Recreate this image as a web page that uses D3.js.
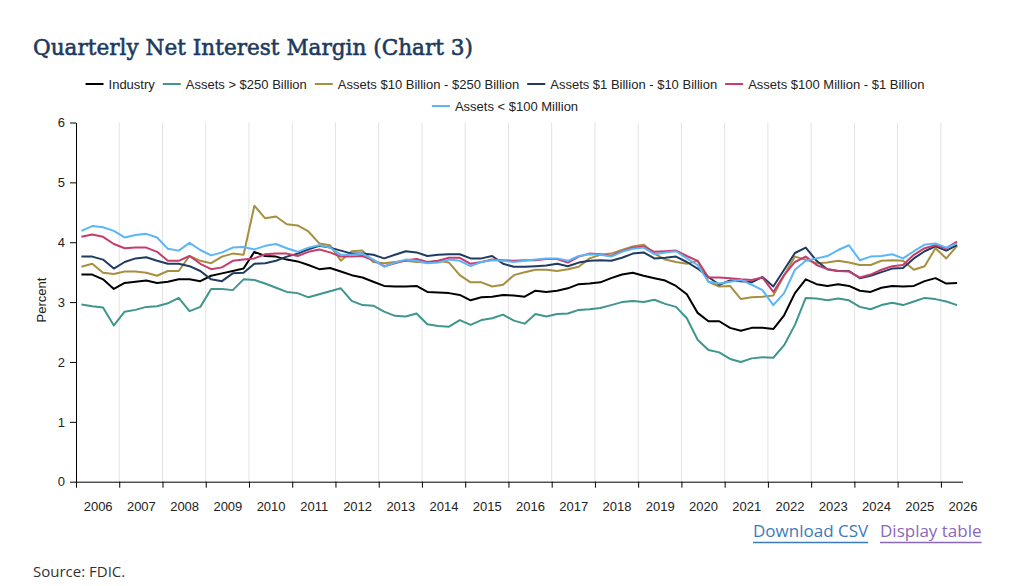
<!DOCTYPE html>
<html>
<head>
<meta charset="utf-8">
<script src="https://cdn.jsdelivr.net/npm/d3@7"></script>
<style>
  body { margin: 0; background: #fff; }
  svg { display: block; }
</style>
</head>
<body>
<svg width="1024" height="586"></svg>
<script>
'use strict';

// quarters 2006 Q1 .. 2026 Q2 as shown on the axis
const quarters = d3.range(82).map(i => `${2006 + Math.floor(i / 4)} Q${i % 4 + 1}`);
const yearTicks = d3.range(2006, 2027);
const yTicks = [0, 1, 2, 3, 4, 5, 6];

const industry = [
  3.46, 3.46, 3.38, 3.22, 3.32, 3.34, 3.36, 3.32, 3.34, 3.38, 3.38, 3.35, 3.44, 3.48, 3.52, 3.56, 3.84, 3.77, 3.76, 3.71,
  3.68, 3.62, 3.55, 3.57, 3.51, 3.45, 3.41, 3.34, 3.27, 3.26, 3.26, 3.27, 3.17, 3.16, 3.15, 3.12, 3.03, 3.08, 3.09, 3.12, 3.11, 3.09,
  3.19, 3.17, 3.19, 3.23, 3.30, 3.31, 3.33, 3.40, 3.46, 3.49, 3.44, 3.40, 3.36, 3.27, 3.13, 2.82, 2.68, 2.68, 2.57, 2.52,
  2.57, 2.57, 2.55, 2.78, 3.15, 3.38, 3.30, 3.27, 3.30, 3.27, 3.19, 3.17, 3.24, 3.27, 3.26, 3.27, 3.35, 3.40, 3.31, 3.32
];
const over250b = [
  2.96, 2.93, 2.91, 2.61, 2.84, 2.87, 2.92, 2.93, 2.98, 3.07, 2.85, 2.92, 3.22, 3.22, 3.20, 3.38, 3.37, 3.31, 3.24, 3.17,
  3.15, 3.08, 3.13, 3.18, 3.23, 3.02, 2.95, 2.94, 2.84, 2.77, 2.76, 2.81, 2.63, 2.60, 2.59, 2.70, 2.62, 2.70, 2.73, 2.79, 2.69, 2.64,
  2.80, 2.76, 2.80, 2.81, 2.87, 2.88, 2.90, 2.95, 3.00, 3.02, 3.00, 3.04, 2.97, 2.92, 2.73, 2.37, 2.20, 2.16, 2.05, 2.00,
  2.06, 2.08, 2.07, 2.28, 2.62, 3.07, 3.06, 3.03, 3.06, 3.03, 2.92, 2.88, 2.95, 2.99, 2.95, 3.01, 3.07, 3.05, 3.01, 2.95
];
const b10to250 = [
  3.59, 3.64, 3.49, 3.47, 3.51, 3.51, 3.49, 3.44, 3.52, 3.52, 3.77, 3.69, 3.65, 3.76, 3.81, 3.79, 4.61, 4.40, 4.43, 4.30,
  4.28, 4.18, 3.98, 3.95, 3.69, 3.85, 3.86, 3.67, 3.65, 3.67, 3.69, 3.67, 3.66, 3.69, 3.66, 3.45, 3.33, 3.33, 3.26, 3.29, 3.45, 3.50,
  3.54, 3.54, 3.52, 3.55, 3.59, 3.73, 3.79, 3.81, 3.87, 3.93, 3.96, 3.81, 3.71, 3.67, 3.64, 3.69, 3.34, 3.26, 3.27, 3.05,
  3.08, 3.09, 3.11, 3.45, 3.76, 3.71, 3.65, 3.66, 3.69, 3.66, 3.62, 3.62, 3.69, 3.70, 3.69, 3.54, 3.60, 3.90, 3.73, 3.94
];
const b1to10 = [
  3.76, 3.76, 3.71, 3.56, 3.67, 3.73, 3.75, 3.69, 3.64, 3.64, 3.60, 3.52, 3.38, 3.35, 3.48, 3.49, 3.64, 3.65, 3.69, 3.76,
  3.81, 3.88, 3.94, 3.91, 3.86, 3.81, 3.81, 3.79, 3.73, 3.79, 3.85, 3.83, 3.77, 3.79, 3.80, 3.80, 3.73, 3.73, 3.77, 3.64, 3.59, 3.59,
  3.60, 3.61, 3.64, 3.60, 3.66, 3.69, 3.70, 3.69, 3.74, 3.81, 3.83, 3.73, 3.74, 3.76, 3.67, 3.56, 3.42, 3.29, 3.36, 3.35,
  3.33, 3.42, 3.26, 3.54, 3.82, 3.91, 3.69, 3.55, 3.52, 3.52, 3.40, 3.44, 3.50, 3.56, 3.57, 3.73, 3.85, 3.93, 3.86, 3.95
];
const m100to1b = [
  4.09, 4.13, 4.09, 3.97, 3.90, 3.91, 3.91, 3.84, 3.69, 3.69, 3.77, 3.64, 3.55, 3.58, 3.69, 3.71, 3.73, 3.80, 3.81, 3.81,
  3.77, 3.84, 3.88, 3.83, 3.76, 3.76, 3.77, 3.70, 3.60, 3.65, 3.70, 3.72, 3.67, 3.69, 3.74, 3.74, 3.64, 3.67, 3.71, 3.70, 3.69, 3.70,
  3.70, 3.72, 3.72, 3.66, 3.76, 3.81, 3.80, 3.77, 3.85, 3.91, 3.93, 3.84, 3.85, 3.86, 3.77, 3.69, 3.41, 3.41, 3.40, 3.38,
  3.37, 3.41, 3.17, 3.45, 3.67, 3.76, 3.62, 3.55, 3.52, 3.51, 3.41, 3.46, 3.54, 3.60, 3.62, 3.79, 3.90, 3.95, 3.90, 4.01
];
const under100m = [
  4.19, 4.27, 4.25, 4.19, 4.08, 4.12, 4.14, 4.08, 3.89, 3.86, 3.99, 3.87, 3.78, 3.83, 3.91, 3.92, 3.88, 3.94, 3.97, 3.90,
  3.84, 3.91, 3.95, 3.91, 3.79, 3.79, 3.81, 3.71, 3.59, 3.66, 3.71, 3.69, 3.65, 3.66, 3.71, 3.69, 3.60, 3.67, 3.70, 3.69, 3.67, 3.69,
  3.71, 3.73, 3.73, 3.69, 3.77, 3.80, 3.79, 3.76, 3.84, 3.89, 3.91, 3.80, 3.83, 3.85, 3.73, 3.62, 3.34, 3.31, 3.34, 3.37,
  3.29, 3.20, 2.95, 3.15, 3.54, 3.69, 3.73, 3.77, 3.87, 3.95, 3.70, 3.76, 3.77, 3.80, 3.73, 3.85, 3.96, 3.98, 3.91, 3.98
];

const seriesNames = [
  'Industry',
  'Assets > $250 Billion',
  'Assets $10 Billion - $250 Billion',
  'Assets $1 Billion - $10 Billion',
  'Assets $100 Million - $1 Billion',
  'Assets < $100 Million'
];
const seriesValues = [industry, over250b, b10to250, b1to10, m100to1b, under100m];
const seriesColors = ['#000000', '#3e968e', '#a6903f', '#1f3b60', '#c63d6d', '#5cb5f6'];

const svg = d3.select('svg');
const margin = { top: 122.5, right: 61.5, bottom: 104.3, left: 76 };
const width = 1024 - margin.left - margin.right;
const height = 586 - margin.top - margin.bottom;
const sans = '"Liberation Sans", Arial, Helvetica, sans-serif';

// title (normal weight, thin stroke to get a medium look)
svg.append('text')
    .attr('x', 33)
    .attr('y', 55)
    .style('font-family', '"DejaVu Serif", serif')
    .attr('font-size', 23)
    .attr('fill', '#1d3a5c')
    .attr('stroke', '#1d3a5c')
    .attr('stroke-width', 0.6)
    .attr('textLength', 440)
    .attr('lengthAdjust', 'spacingAndGlyphs')
    .text('Quarterly Net Interest Margin (Chart 3)');

// x position of each quarter: middle of its quarter slot, axis in years
const quarterPos = (i) => 2006 + i / 4 + 0.125;

const x = d3.scaleLinear().domain([2006, 2026.5]).range([0, width]);
const y = d3.scaleLinear().domain([0, 6]).range([height, 0]);

const g = svg.append('g')
    .attr('transform', `translate(${margin.left}, ${margin.top})`);

// vertical grid
g.append('g')
  .selectAll('line')
  .data(yearTicks.slice(1))
  .join('line')
    .attr('x1', d => x(d))
    .attr('x2', d => x(d))
    .attr('y1', 0)
    .attr('y2', height)
    .attr('stroke', '#e3e3e3')
    .attr('stroke-width', 1);

// lines
const line = d3.line()
    .x((d, i) => x(quarterPos(i)))
    .y(d => y(d));

g.append('g')
  .selectAll('path')
  .data(seriesValues)
  .join('path')
    .attr('d', d => line(d))
    .attr('fill', 'none')
    .attr('stroke', (d, i) => seriesColors[i])
    .attr('stroke-width', 2)
    .attr('stroke-linejoin', 'round');

// x axis: ticks at year starts, labels centred in each year
const xAxis = g.append('g')
    .attr('transform', `translate(0, ${height})`)
    .call(d3.axisBottom(x).tickValues(yearTicks).tickFormat('').tickSize(6).tickSizeOuter(0));
xAxis.select('.domain').attr('stroke', '#000');
xAxis.selectAll('.tick line').attr('stroke', '#000');

const xLabels = g.append('g')
    .attr('transform', `translate(0, ${height})`)
    .call(d3.axisBottom(x).tickValues(yearTicks.map(d => d + 0.5)).tickFormat(d => Math.floor(d)).tickSize(0).tickPadding(20));
xLabels.select('.domain').remove();
xLabels.selectAll('text')
    .style('font-family', sans)
    .style('font-size', '13px')
    .attr('fill', '#222');

// y axis
const yAxis = g.append('g')
    .call(d3.axisLeft(y).tickValues(yTicks).tickFormat(d3.format('d')).tickSize(6).tickSizeOuter(0).tickPadding(5));
yAxis.select('.domain').attr('stroke', '#000');
yAxis.selectAll('.tick line').attr('stroke', '#000');
yAxis.selectAll('text')
    .style('font-family', sans)
    .style('font-size', '13px')
    .attr('fill', '#222');

g.append('text')
    .attr('transform', `translate(-30, ${height / 2 - 2}) rotate(-90)`)
    .attr('text-anchor', 'middle')
    .style('font-family', sans)
    .style('font-size', '13px')
    .attr('fill', '#222')
    .text('Percent');

// legend, two rows centred
const legendRows = [[0, 1, 2, 3, 4], [5]];
const legendY = [84, 106];
const swatch = 18;
const swatchGap = 5;
const itemGap = 8;
const legendCenter = 505;
const legend = svg.append('g');

legendRows.forEach((row, r) => {
  const rowG = legend.append('g');
  let cx = 0;
  row.forEach(k => {
    rowG.append('line')
        .attr('x1', cx)
        .attr('x2', cx + swatch)
        .attr('y1', legendY[r])
        .attr('y2', legendY[r])
        .attr('stroke', seriesColors[k])
        .attr('stroke-width', 2);
    const t = rowG.append('text')
        .attr('x', cx + swatch + swatchGap)
        .attr('y', legendY[r])
        .attr('dy', '0.35em')
        .style('font-family', sans)
        .style('font-size', '13px')
        .attr('fill', '#222')
        .text(seriesNames[k]);
    cx += swatch + swatchGap + t.node().getComputedTextLength() + itemGap;
  });
  const rowWidth = cx - itemGap;
  rowG.attr('transform', `translate(${legendCenter - rowWidth / 2}, 0)`);
});

// links and source
const links = [
  { text: 'Download CSV', x: 753, color: '#3d7bb8' },
  { text: 'Display table', x: 880, color: '#8a68b8' }
];
links.forEach(l => {
  const t = svg.append('text')
      .attr('x', l.x)
      .attr('y', 537)
      .style('font-family', '"Open Sans", sans-serif')
      .style('font-size', '17px')
      .attr('fill', l.color)
      .text(l.text);
  const w = t.node().getComputedTextLength();
  svg.append('line')
      .attr('x1', l.x)
      .attr('x2', l.x + w)
      .attr('y1', 542.5)
      .attr('y2', 542.5)
      .attr('stroke', l.color)
      .attr('stroke-width', 1.5);
});

svg.append('text')
    .attr('x', 33)
    .attr('y', 577)
    .style('font-family', '"Open Sans", sans-serif')
    .style('font-size', '15px')
    .attr('fill', '#333')
    .text('Source: FDIC.');
</script>
</body>
</html>
